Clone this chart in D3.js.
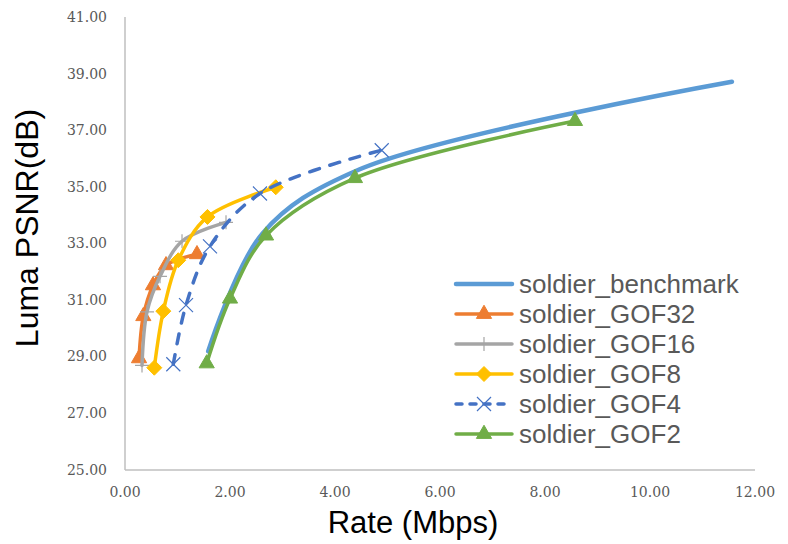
<!DOCTYPE html>
<html>
<head>
<meta charset="utf-8">
<script src="https://cdnjs.cloudflare.com/ajax/libs/d3/7.8.5/d3.min.js"></script>
<style>
  body { margin: 0; background: #fff; }
</style>
</head>
<body>
<div id="chart"></div>
<script>
// series names
var seriesNames = ["soldier_benchmark", "soldier_GOF32", "soldier_GOF16", "soldier_GOF8", "soldier_GOF4", "soldier_GOF2"];

// rate (Mbps) per series
var rateBenchmark = [1.585, 2.62, 4.45, 11.56];
var rateGOF32 = [0.267, 0.349, 0.533, 0.781, 1.371];
var rateGOF16 = [0.324, 0.419, 0.667, 1.086, 1.924];
var rateGOF8 = [0.558, 0.730, 1.015, 1.571, 2.872];
var rateGOF4 = [0.920, 1.162, 1.619, 2.571, 4.890];
var rateGOF2 = [1.556, 2.000, 2.686, 4.380, 8.571];

// luma PSNR (dB) per series
var psnrBenchmark = [29.18, 33.35, 35.60, 38.71];
var psnrGOF32 = [28.93, 30.42, 31.51, 32.22, 32.61];
var psnrGOF16 = [28.68, 30.57, 31.83, 33.07, 33.74];
var psnrGOF8 = [28.60, 30.60, 32.40, 33.93, 34.98];
var psnrGOF4 = [28.72, 30.81, 32.89, 34.76, 36.29];
var psnrGOF2 = [28.75, 31.04, 33.27, 35.30, 37.32];

// axis ticks
var xTicks = [0, 2, 4, 6, 8, 10, 12];
var yTicks = [25, 27, 29, 31, 33, 35, 37, 39, 41];

var rates = [rateBenchmark, rateGOF32, rateGOF16, rateGOF8, rateGOF4, rateGOF2];
var psnrs = [psnrBenchmark, psnrGOF32, psnrGOF16, psnrGOF8, psnrGOF4, psnrGOF2];

// 스타일
var colors = ["#5B9BD5", "#ED7D31", "#A5A5A5", "#FFC000", "#4472C4", "#70AD47"];
var widths = [4.5, 3.5, 3.5, 3.5, 3.5, 3.5];
var markers = ["none", "triangle", "plus", "diamond", "x", "triangle"];

var W = 788, H = 544;
var svg = d3.select("#chart").append("svg")
  .attr("width", W).attr("height", H)
  .style("font-family", "Arial, 'Liberation Sans', sans-serif");

var x = d3.scaleLinear().domain([0, 12]).range([125, 755]);
var y = d3.scaleLinear().domain([25, 41]).range([469.5, 17]);

// axis lines
svg.append("line")
  .attr("x1", x(0)).attr("x2", x(0))
  .attr("y1", y(41)).attr("y2", y(25) + 0.5)
  .attr("stroke", "#BFBFBF").attr("stroke-width", 1.5);
svg.append("line")
  .attr("x1", x(0)).attr("x2", x(12))
  .attr("y1", y(25) + 0.5).attr("y2", y(25) + 0.5)
  .attr("stroke", "#BFBFBF").attr("stroke-width", 1.5);

// tick labels
svg.append("g").selectAll("text").data(yTicks).enter().append("text")
  .attr("x", 107).attr("y", function(d) { return y(d); })
  .attr("dy", "0.36em")
  .attr("text-anchor", "end")
  .attr("fill", "#595959")
  .style("font-family", "'DejaVu Serif', serif")
  .style("font-size", "14px")
  .text(function(d) { return d.toFixed(2); });

svg.append("g").selectAll("text").data(xTicks).enter().append("text")
  .attr("x", function(d) { return x(d); }).attr("y", 497)
  .attr("text-anchor", "middle")
  .attr("fill", "#595959")
  .style("font-family", "'DejaVu Serif', serif")
  .style("font-size", "14px")
  .text(function(d) { return d.toFixed(2); });

// axis titles
svg.append("text")
  .attr("x", 413).attr("y", 533)
  .attr("text-anchor", "middle")
  .attr("fill", "#000")
  .style("font-size", "31px")
  .text("Rate (Mbps)");

svg.append("text")
  .attr("transform", "translate(38,228) rotate(-90)")
  .attr("text-anchor", "middle")
  .attr("fill", "#000")
  .style("font-size", "32px")
  .text("Luma PSNR(dB)");

// marker shapes
function markerPath(type) {
  if (type == "triangle") return d3.symbol().type(d3.symbolTriangle).size(100)();
  if (type == "diamond") return "M0,-7.5L7.5,0L0,7.5L-7.5,0Z";
  if (type == "x") return "M-7,-7L7,7M-7,7L7,-7";
  if (type == "plus") return "M-7,0L7,0M0,-7L0,7";
  return null;
}

function drawMarker(g, type, color, px, py) {
  if (type == "none") return;
  var p = g.append("path")
    .attr("d", markerPath(type))
    .attr("transform", "translate(" + px + "," + py + ")");
  if (type == "x" || type == "plus") {
    p.attr("fill", "none").attr("stroke", color).attr("stroke-width", 1.2);
  } else {
    p.attr("fill", color).attr("stroke", color).attr("stroke-width", 1);
  }
}

var line = d3.line()
  .x(function(d) { return x(d[0]); })
  .y(function(d) { return y(d[1]); })
  .curve(d3.curveCatmullRom);

var plot = svg.append("g");

seriesNames.forEach(function(name, i) {
  var pts = rates[i].map(function(r, k) { return [r, psnrs[i][k]]; });
  var g = plot.append("g");
  var path = g.append("path")
    .datum(pts)
    .attr("d", line)
    .attr("fill", "none")
    .attr("stroke", colors[i])
    .attr("stroke-width", widths[i])
    .attr("stroke-linecap", "round")
    .attr("stroke-linejoin", "round");
  if (i == 4) path.attr("stroke-dasharray", "10,11");
  pts.forEach(function(p) {
    drawMarker(g, markers[i], colors[i], x(p[0]), y(p[1]));
  });
});

// 범례
var legend = svg.append("g");
seriesNames.forEach(function(name, i) {
  var ly = 284 + i * 30;
  var lg = legend.append("g");
  var ln = lg.append("line")
    .attr("x1", 456).attr("x2", 512)
    .attr("y1", ly).attr("y2", ly)
    .attr("stroke", colors[i])
    .attr("stroke-width", widths[i])
    .attr("stroke-linecap", "round");
  if (i == 4) ln.attr("stroke-dasharray", "6,8");
  drawMarker(lg, markers[i], colors[i], 484, ly);
  lg.append("text")
    .attr("x", 519).attr("y", ly)
    .attr("dy", "0.36em")
    .attr("fill", "#595959")
    .style("font-size", "26px")
    .text(name);
});
</script>
</body>
</html>
